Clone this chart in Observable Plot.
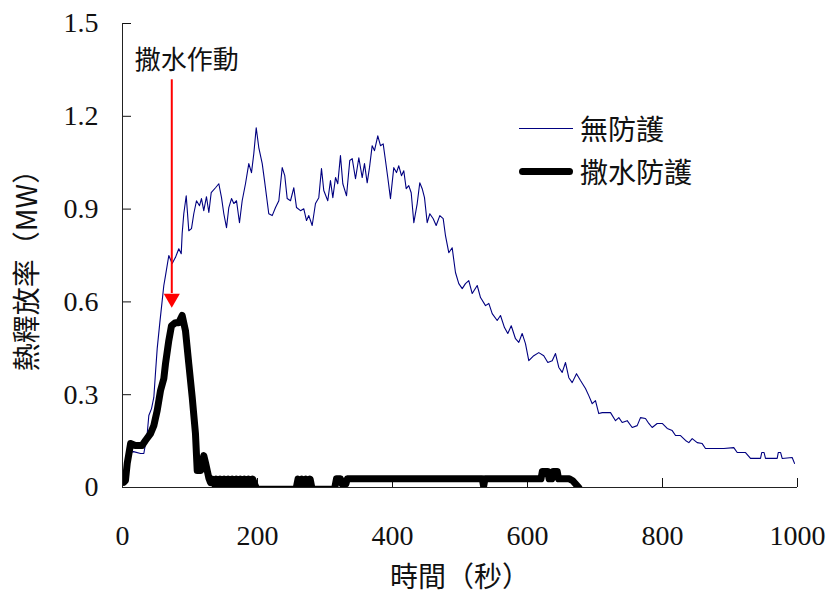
<!DOCTYPE html>
<html><head><meta charset="utf-8">
<script src="https://cdn.jsdelivr.net/npm/d3@7"></script>
<script src="https://cdn.jsdelivr.net/npm/@observablehq/plot@0.6"></script>
<style>
body{margin:0;background:#fff;}
#wrap{position:relative;width:828px;height:603px;}
#wrap svg text, .legend{text-spacing-trim:space-all;}
.legend{position:absolute;left:519px;top:110px;font-family:"Noto Sans CJK TC",sans-serif;font-size:28px;color:#111;}
.row{display:flex;align-items:center;height:36px;margin-bottom:7px;}
.sw{display:inline-block;width:54px;margin-right:7px;}
</style></head><body><div id="wrap"></div>
<script>
// ---- data ----
const seriesNames = ["無防護", "撒水防護"];
const xLabel = "時間（秒）";
const yLabel = "熱釋放率（MW）";
const xTicks = [0, 200, 400, 600, 800, 1000];
const yTicks = [0, 0.3, 0.6, 0.9, 1.2, 1.5];

// 無防護 (no protection)
const noProtT = [0,5.9,11.9,16.3,26.7,31.6,36.6,39,43,46.4,48.9,51.4,55.3,58.8,61.2,63.7,68.6,73.6,78.5,83.4,87,88.4,90.8,94.4,98.2,102.2,105.6,109.6,114.1,117,120.4,124.4,127.9,131.4,137.8,142.7,146.7,150.1,154.1,157.5,161.5,164.9,168.9,173.3,177.3,182.2,187.1,191.1,194.5,198.1,201.9,207,210.4,216.7,221.8,226.7,231.6,236.6,240.4,244,248.9,253.8,257.8,263.7,268.6,272.6,276,281,285.9,290.8,294.8,298.2,304.1,308.1,311.6,315.6,318.9,322.9,326.4,331.9,336.7,340.3,345.2,350.1,355.1,358.5,362.5,365.9,369.9,373.3,378.2,382.2,386.2,389.6,393,397,401.9,405.9,409.3,413.3,416.7,420.3,424.1,427.7,431.6,436.6,440.4,444,447.4,451.4,455.3,460.3,464.7,470.1,475.1,478.5,483.4,488.4,493.3,498.2,503.3,508.1,513,518.1,525.5,530.4,537.8,542.7,547.7,555.1,560,565.9,570.8,575.9,582.2,587.1,592.1,597,601.9,609.3,616.7,624.1,630.1,636.6,641.5,646.4,651.4,656.3,661.2,666.2,672.6,678.5,685.9,690.8,695.9,700.7,705.6,710.7,723,730.4,735.3,740.3,747.7,755.1,762.5,767.4,774.8,779.7,784.7,792.1,799.6,807,814.4,819.3,826.7,834.1,839,844,851.4,858.8,863.7,876,890.8,905.6,910.7,923,930.4,945.2,947,950.5,952.6,969.9,971.5,975,977.3,992.1,995.6];
const noProtV = [0.029,0.087,0.113,0.116,0.110,0.110,0.174,0.233,0.255,0.291,0.372,0.449,0.533,0.604,0.653,0.685,0.75,0.724,0.744,0.772,0.756,0.821,0.885,0.943,0.830,0.837,0.885,0.927,0.911,0.934,0.895,0.94,0.889,0.953,0.969,0.982,0.937,0.885,0.840,0.905,0.934,0.918,0.927,0.856,0.927,0.982,1.047,1.018,1.079,1.163,1.099,1.047,0.992,0.885,0.879,0.905,0.927,1.034,1.008,0.934,0.927,0.969,0.905,0.895,0.901,0.863,0.879,0.847,0.918,0.937,1.031,0.960,0.927,0.992,0.937,1.002,0.982,1.073,0.982,0.943,1.057,1.063,0.998,1.066,1.002,1.047,0.985,1.034,1.105,1.089,1.137,1.105,1.111,1.057,1.002,0.934,1.034,1.018,1.040,1.008,1.024,0.966,0.976,0.953,0.856,0.918,0.985,0.966,0.937,0.856,0.885,0.869,0.847,0.879,0.869,0.814,0.759,0.775,0.695,0.659,0.643,0.659,0.669,0.627,0.653,0.614,0.588,0.595,0.562,0.540,0.556,0.517,0.498,0.523,0.481,0.469,0.498,0.465,0.410,0.426,0.436,0.426,0.404,0.410,0.433,0.388,0.372,0.404,0.355,0.339,0.368,0.346,0.320,0.297,0.271,0.281,0.239,0.242,0.242,0.216,0.226,0.210,0.216,0.194,0.200,0.226,0.223,0.207,0.194,0.207,0.207,0.191,0.184,0.168,0.168,0.152,0.145,0.158,0.145,0.142,0.126,0.126,0.126,0.129,0.113,0.113,0.094,0.094,0.113,0.113,0.094,0.094,0.113,0.113,0.094,0.097,0.078];

// 撒水防護 (sprinkler protection)
const sprT = [2,4.4,7,9,12,19,29,34,41.5,46.4,51.4,56.3,61.2,63.7,68.6,72.6,78.5,83.4,88.4,93.3,98.2,103.3,108.1,110.7,115.6,118,120.4,123,125.5,128,130.4,133,136,139,142,145,148,151,154,157,160,163,166,169,172,175,178,181,184,187,190,193,196,199,257,260,263,266,269,272,275,278,281,314,317,323,325,331,333,400,460,533,535,537,620,622,630,632,636,638,644,646,662,667,671,676];
const sprV = [0.017,0.023,0.078,0.103,0.142,0.136,0.136,0.152,0.174,0.2,0.249,0.313,0.352,0.4,0.475,0.523,0.533,0.533,0.556,0.507,0.4,0.291,0.174,0.055,0.055,0.08,0.103,0.08,0.055,0.03,0.016,0.027,0.011,0.027,0.011,0.027,0.011,0.027,0.011,0.027,0.011,0.027,0.011,0.027,0.011,0.027,0.011,0.027,0.011,0.027,0.011,0.027,0.01,-0.006,-0.006,0.027,0.011,0.027,0.011,0.027,0.011,0.027,-0.006,-0.006,0.028,0.028,0.012,0.012,0.028,0.028,0.028,0.028,0.004,0.028,0.028,0.052,0.052,0.028,0.028,0.052,0.052,0.028,0.028,0.022,0.012,0];

// annotation
const annText = "撒水作動";
const annT = 95, annV = 1.38;
const arrowT = 73, arrowTop = 1.318, arrowBase = 0.627, arrowTip = 0.611;

const blueData = noProtT.map((t, i) => ({t, v: noProtV[i]}));
const blackData = sprT.map((t, i) => ({t, v: sprV[i]}));
const cjk = "Noto Sans CJK TC";
const serif = "Liberation Serif";

const chart = Plot.plot({
  width: 828, height: 603,
  marginLeft: 122, marginRight: 31, marginTop: 23, marginBottom: 116,
  style: {fontFamily: serif, fontSize: "28px", color: "#111", background: "#fff", overflow: "visible"},
  x: {domain: [0, 1000]},
  y: {domain: [0, 1.5]},
  marks: [
    Plot.axisX({ticks: xTicks, tickSize: -9, tickPadding: 47, tickFormat: d => String(d), label: null, fontSize: 28, fontFamily: serif, fontVariant: "normal"}),
    Plot.axisY({ticks: yTicks, tickSize: -9, tickPadding: 33, tickFormat: d => String(d), label: null, fontSize: 28, fontFamily: serif, fontVariant: "normal"}),
    Plot.line(blueData, {x: "t", y: "v", stroke: "#000080", strokeWidth: 1.1}),
    Plot.line(blackData, {x: "t", y: "v", stroke: "#000", strokeWidth: 7, clip: true, strokeLinejoin: "round", strokeLinecap: "round"}),
    Plot.ruleX([0], {stroke: "#222"}),
    Plot.ruleY([0], {stroke: "#222"}),
    Plot.ruleX([arrowT], {y1: arrowTop, y2: arrowBase, stroke: "#ff0000", strokeWidth: 2}),
    Plot.dot([arrowT], {x: d => d, y: () => arrowTip, symbol: "triangle", rotate: 180, r: 6, fill: "#ff0000", stroke: "none"}),
    Plot.text([annText], {x: () => annT, y: () => annV, fontFamily: cjk, fontSize: 26, fill: "#111"}),
    Plot.text([xLabel], {frameAnchor: "bottom", dy: 99, fontFamily: cjk, fontSize: 28, fill: "#111"}),
    Plot.text([yLabel], {frameAnchor: "left", textAnchor: "middle", dx: -94, dy: 8, rotate: -90, fontFamily: cjk, fontSize: 28, fill: "#111"})
  ]
});
const wrap = document.getElementById("wrap");
wrap.appendChild(chart);
// make sure numeric tick labels use the serif face
chart.querySelectorAll("text").forEach(t => {
  if (/^[0-9.]+$/.test(t.textContent.trim())) {
    t.setAttribute("font-family", serif);
    t.style.fontFamily = serif;
  }
});

const legend = document.createElement("div");
legend.className = "legend";
const swStyles = ["border-top:1.2px solid #000080;", "border-top:7px solid #000;border-radius:4px;"];
seriesNames.forEach((name, i) => {
  const row = document.createElement("div");
  row.className = "row";
  const sw = document.createElement("span");
  sw.className = "sw";
  sw.style.cssText = swStyles[i];
  const lab = document.createElement("span");
  lab.textContent = name;
  row.appendChild(sw); row.appendChild(lab);
  legend.appendChild(row);
});
wrap.appendChild(legend);
</script></body></html>
